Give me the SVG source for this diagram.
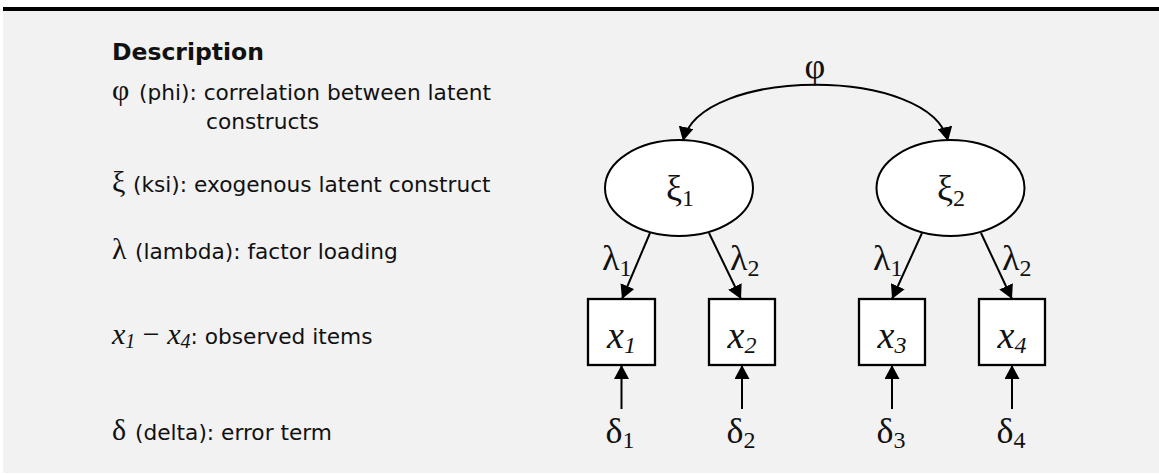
<svg xmlns="http://www.w3.org/2000/svg" width="1159" height="474" viewBox="0 0 1159 474">
<style>
.s{font-family:"DejaVu Sans",Verdana,sans-serif;font-size:21.7px;fill:#111}
.b{font-family:"DejaVu Sans",Verdana,sans-serif;font-size:23.5px;font-weight:bold;fill:#111}
.g{font-family:"Liberation Serif","Times New Roman",serif;font-size:30px;fill:#111}
.gi{font-family:"Liberation Serif","Times New Roman",serif;font-size:30px;font-style:italic;fill:#111}
.d{font-family:"Liberation Serif","Times New Roman",serif;font-size:36px;fill:#111}
.di{font-family:"Liberation Serif","Times New Roman",serif;font-size:38px;font-style:italic;fill:#111}
.sub{font-size:24px}
.ls{font-size:20px}
.node{fill:#fff;stroke:#000;stroke-width:2}
.box{fill:#fff;stroke:#000;stroke-width:2.3}
.edge{fill:none;stroke:#000;stroke-width:2}
</style>
<defs>
<marker id="ah" viewBox="0 0 14 15" refX="14" refY="7.5" markerWidth="14" markerHeight="15" markerUnits="userSpaceOnUse" orient="auto-start-reverse"><path d="M0,0 L14,7.5 L0,15 z" fill="#000"/></marker>
</defs>
<rect x="0" y="0" width="1159" height="474" fill="#fff"/>
<rect x="3" y="11" width="1156" height="462" fill="#f2f2f2"/>
<rect x="3" y="7" width="1156" height="4" fill="#000"/>

<g id="legend">
<text class="b" x="112" y="60">Description</text>
<text x="112" y="100"><tspan class="g">φ</tspan><tspan class="s" x="139">(phi): correlation between latent</tspan></text>
<text class="s" x="206" y="129">constructs</text>
<text x="112" y="192"><tspan class="g">ξ</tspan><tspan class="s" x="133">(ksi): exogenous latent construct</tspan></text>
<text x="112" y="259"><tspan class="g">λ</tspan><tspan class="s" x="135">(lambda): factor loading</tspan></text>
<text x="112" y="344"><tspan class="gi">x<tspan class="ls" dy="4">1</tspan></tspan><tspan class="g" dy="-4"> − </tspan><tspan class="gi">x<tspan class="ls" dy="4">4</tspan></tspan><tspan class="s" dy="-4">: observed items</tspan></text>
<text x="112" y="440"><tspan class="g">δ</tspan><tspan class="s" x="135">(delta): error term</tspan></text>
</g>

<g id="connectors">
<path class="edge" d="M683,141 C700,66 931,66 948,141" marker-start="url(#ah)" marker-end="url(#ah)"/>
<line class="edge" x1="650" y1="233" x2="622" y2="299" marker-end="url(#ah)"/>
<line class="edge" x1="709" y1="233" x2="741" y2="299" marker-end="url(#ah)"/>
<line class="edge" x1="922" y1="233" x2="892" y2="299" marker-end="url(#ah)"/>
<line class="edge" x1="981" y1="233" x2="1012" y2="299" marker-end="url(#ah)"/>
<line class="edge" x1="621.5" y1="409" x2="621.5" y2="365" marker-end="url(#ah)"/>
<line class="edge" x1="742" y1="409" x2="742" y2="365" marker-end="url(#ah)"/>
<line class="edge" x1="892" y1="409" x2="892" y2="365" marker-end="url(#ah)"/>
<line class="edge" x1="1012" y1="409" x2="1012" y2="365" marker-end="url(#ah)"/>
<text class="d" x="815" y="78" text-anchor="middle">φ</text>
<text class="d" x="602" y="270">λ<tspan class="sub" dy="6">1</tspan></text>
<text class="d" x="730" y="270">λ<tspan class="sub" dy="6">2</tspan></text>
<text class="d" x="873" y="270">λ<tspan class="sub" dy="6">1</tspan></text>
<text class="d" x="1002" y="270">λ<tspan class="sub" dy="6">2</tspan></text>
</g>

<g id="xi1"><ellipse class="node" cx="679" cy="188" rx="74" ry="48"/><text class="d" x="680" y="200" text-anchor="middle">ξ<tspan class="sub" dy="6">1</tspan></text></g>
<g id="xi2"><ellipse class="node" cx="950.5" cy="188" rx="74" ry="48"/><text class="d" x="951" y="200" text-anchor="middle">ξ<tspan class="sub" dy="6">2</tspan></text></g>

<g id="x1"><rect class="box" x="588" y="299" width="67" height="66"/><text class="di" x="621.5" y="348" text-anchor="middle">x<tspan class="sub" dy="5">1</tspan></text></g>
<g id="x2"><rect class="box" x="709" y="299" width="66" height="66"/><text class="di" x="742" y="348" text-anchor="middle">x<tspan class="sub" dy="5">2</tspan></text></g>
<g id="x3"><rect class="box" x="859" y="299" width="66" height="66"/><text class="di" x="892" y="348" text-anchor="middle">x<tspan class="sub" dy="5">3</tspan></text></g>
<g id="x4"><rect class="box" x="979" y="299" width="66" height="66"/><text class="di" x="1012" y="348" text-anchor="middle">x<tspan class="sub" dy="5">4</tspan></text></g>

<g id="d1"><text class="d" x="620" y="443" text-anchor="middle">δ<tspan class="sub" dy="5">1</tspan></text></g>
<g id="d2"><text class="d" x="741" y="443" text-anchor="middle">δ<tspan class="sub" dy="5">2</tspan></text></g>
<g id="d3"><text class="d" x="891" y="443" text-anchor="middle">δ<tspan class="sub" dy="5">3</tspan></text></g>
<g id="d4"><text class="d" x="1011" y="443" text-anchor="middle">δ<tspan class="sub" dy="5">4</tspan></text></g>
</svg>
